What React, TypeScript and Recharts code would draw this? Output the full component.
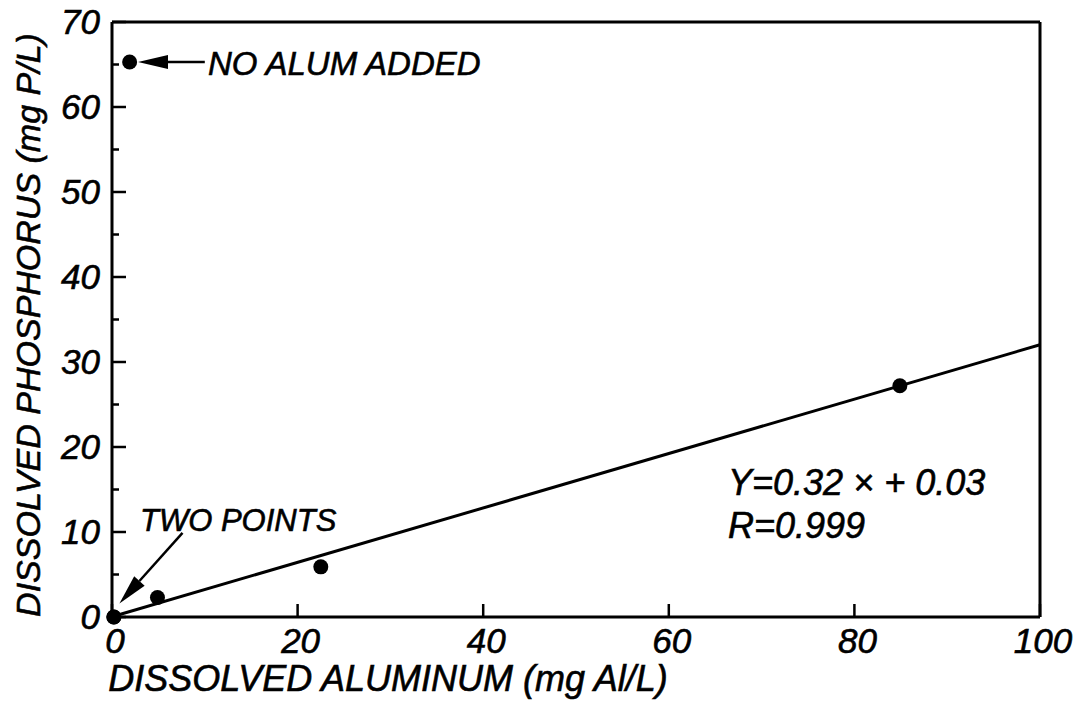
import { ScatterChart, Scatter, XAxis, YAxis, ReferenceLine } from "recharts";

// measured samples (mg Al/L vs mg P/L)
const samples = [
  { x: 0.2, y: 0 },
  { x: 0.2, y: 0 },
  { x: 4.9, y: 2.3 },
  { x: 22.5, y: 5.9 },
  { x: 84.9, y: 27.2 },
];
const noAlum = [{ x: 1.9, y: 65.3 }];

// regression Y = 0.32x + 0.03, endpoints
const fitLine = [
  { x: 0, y: 0.03 },
  { x: 100, y: 32.03 },
];

// annotation arrows, in data units
const noAlumArrow = [
  { x: 10, y: 65.3 },
  { x: 2.8, y: 65.3 },
];
const twoPointsArrow = [
  { x: 7.6, y: 9.9 },
  { x: 0.8, y: 1.6 },
];

const xTicks = [0, 20, 40, 60, 80, 100];
const yTicks = [0, 5, 10, 15, 20, 25, 30, 35, 40, 45, 50, 55, 60, 65, 70];

const W = 1085;
const H = 702;
const FONT = "'Liberation Sans', Arial, sans-serif";
const INK = "#000";

const textStyle = {
  fontFamily: FONT,
  fontStyle: "italic" as const,
  fill: INK,
  stroke: INK,
  strokeWidth: 0.6,
};

function XTick({ x, y, payload }: any) {
  return (
    <g>
      <line x1={x} y1={y} x2={x} y2={y - 13} stroke={INK} strokeWidth={2.5} />
      <text x={x + 3} y={y + 36} textAnchor="middle" fontSize={35} {...textStyle}>
        {payload.value}
      </text>
    </g>
  );
}

function YTick({ x, y, payload }: any) {
  const v = payload.value;
  const major = v % 10 === 0;
  return (
    <g>
      <line x1={x} y1={y} x2={x + (major ? 14 : 7)} y2={y} stroke={INK} strokeWidth={2.5} />
      {major && (
        <text x={x - 12} y={y + 12} textAnchor="end" fontSize={35} {...textStyle}>
          {v}
        </text>
      )}
    </g>
  );
}

function Dot({ cx, cy }: any) {
  return <circle cx={cx} cy={cy} r={7.5} fill={INK} />;
}

function Arrow({ x1, y1, x2, y2 }: any) {
  const a = Math.atan2(y2 - y1, x2 - x1);
  const len = 30;
  const half = 7;
  const bx = x2 - len * Math.cos(a);
  const by = y2 - len * Math.sin(a);
  const px = -Math.sin(a) * half;
  const py = Math.cos(a) * half;
  return (
    <g>
      <line x1={x1} y1={y1} x2={bx} y2={by} stroke={INK} strokeWidth={2.5} />
      <polygon points={`${x2},${y2} ${bx + px},${by + py} ${bx - px},${by - py}`} fill={INK} />
    </g>
  );
}

export default function App() {
  return (
    <div style={{ position: "absolute", left: 0, top: 0, width: W, height: H, background: "#fff" }}>
      <ScatterChart width={W} height={H} margin={{ top: 22, right: 45, bottom: 45, left: 52 }}>
        <XAxis
          type="number"
          dataKey="x"
          domain={[0, 100]}
          ticks={xTicks}
          interval={0}
          height={40}
          tickSize={0}
          tickMargin={0}
          tickLine={false}
          axisLine={{ stroke: INK, strokeWidth: 3 }}
          tick={<XTick />}
        />
        <YAxis
          type="number"
          dataKey="y"
          domain={[0, 70]}
          ticks={yTicks}
          interval={0}
          width={60}
          tickSize={0}
          tickMargin={0}
          tickLine={false}
          axisLine={{ stroke: INK, strokeWidth: 3 }}
          tick={<YTick />}
        />
        <ReferenceLine y={70} stroke={INK} strokeWidth={3} />
        <ReferenceLine x={100} stroke={INK} strokeWidth={3} />
        <ReferenceLine segment={fitLine} stroke={INK} strokeWidth={3} />
        <ReferenceLine segment={noAlumArrow} shape={<Arrow />} />
        <ReferenceLine segment={twoPointsArrow} shape={<Arrow />} />
        <Scatter data={samples} shape={<Dot />} isAnimationActive={false} />
        <Scatter data={noAlum} shape={<Dot />} isAnimationActive={false} />
      </ScatterChart>
      <svg width={W} height={H} style={{ position: "absolute", left: 0, top: 0, pointerEvents: "none" }}>
        <text x={208} y={75} fontSize={33} {...textStyle}>
          NO ALUM ADDED
        </text>
        <text x={140} y={531} fontSize={31} {...textStyle}>
          TWO POINTS
        </text>
        <text x={728} y={495} fontSize={36} {...textStyle}>
          Y=0.32 × + 0.03
        </text>
        <text x={728} y={538} fontSize={36} {...textStyle}>
          R=0.999
        </text>
        <text x={388} y={691} fontSize={36} textAnchor="middle" {...textStyle}>
          DISSOLVED ALUMINUM (mg Al/L)
        </text>
        <text
          x={0}
          y={0}
          fontSize={34}
          textAnchor="middle"
          transform="translate(40,325) rotate(-90)"
          {...textStyle}
        >
          DISSOLVED PHOSPHORUS (mg P/L)
        </text>
      </svg>
    </div>
  );
}
